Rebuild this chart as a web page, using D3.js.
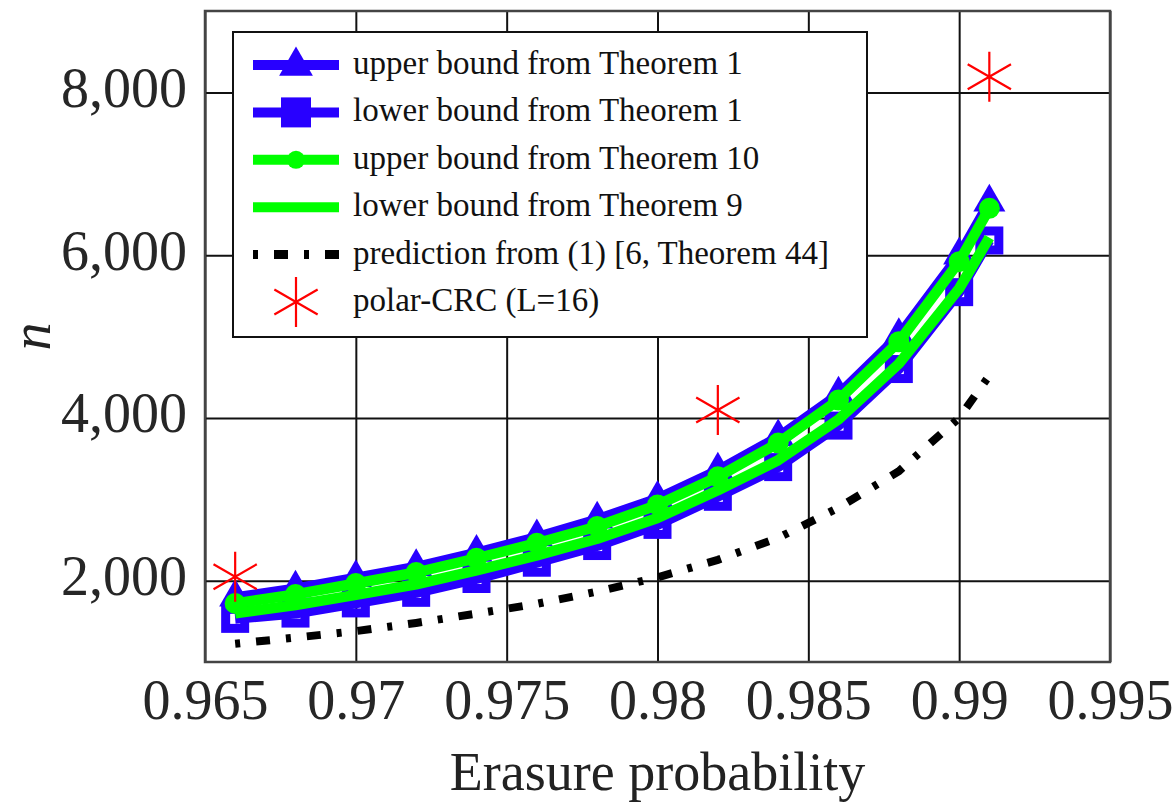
<!DOCTYPE html>
<html>
<head>
<meta charset="utf-8">
<script src="https://cdn.jsdelivr.net/npm/d3@7"></script>
<style>
  body { margin: 0; background: #fff; }
  text { font-family: "Liberation Serif", "DejaVu Serif", serif; }
</style>
</head>
<body>
<div id="chart"></div>
<script>
// erasure probabilities
var erasure = [0.966, 0.968, 0.970, 0.972, 0.974, 0.976, 0.978, 0.980, 0.982, 0.984, 0.986, 0.988, 0.990, 0.991];

// series values (n)
var upperThm1  = [1795, 1905, 2035, 2170, 2345, 2535, 2755, 3010, 3355, 3765, 4290, 5010, 6000, 6650];
var lowerThm1  = [1530, 1595, 1720, 1850, 2020, 2220, 2425, 2685, 3030, 3395, 3905, 4600, 5545, 6180];
var upperThm10 = [1720, 1830, 1965, 2100, 2275, 2460, 2665, 2930, 3275, 3690, 4220, 4935, 5920, 6575];
var lowerThm9  = [1600, 1700, 1825, 1955, 2125, 2310, 2515, 2770, 3110, 3480, 3980, 4665, 5590, 6215];
var prediction = [1225, 1300, 1380, 1480, 1595, 1715, 1865, 2040, 2255, 2525, 2895, 3345, 4000, 4520];

// polar-CRC points
var polarX = [0.966, 0.982, 0.991];
var polarN = [2048, 4096, 8192];

// ticks
var xTicks = [0.965, 0.97, 0.975, 0.98, 0.985, 0.99, 0.995];
var xTickLabels = ["0.965", "0.97", "0.975", "0.98", "0.985", "0.99", "0.995"];
var yTicks = [2000, 4000, 6000, 8000];
var yTickLabels = ["2,000", "4,000", "6,000", "8,000"];

var legendLabels = [
  "upper bound from Theorem 1",
  "lower bound from Theorem 1",
  "upper bound from Theorem 10",
  "lower bound from Theorem 9",
  "prediction from (1) [6, Theorem 44]",
  "polar-CRC (L=16)"
];

var W = 1173, H = 805;
var pLeft = 205, pRight = 1110, pTop = 11, pBottom = 662;
var blue = "#2800ff", green = "#00ff00", red = "#ff0000";

var svg = d3.select("#chart").append("svg")
    .attr("width", W)
    .attr("height", H);

var x = d3.scaleLinear().domain([0.965, 0.995]).range([pLeft, pRight]);
var y = d3.scaleLinear().domain([1000, 9000]).range([pBottom, pTop]);

// grid
svg.append("g")
    .attr("transform", "translate(0," + pBottom + ")")
    .call(d3.axisBottom(x).tickValues(xTicks).tickSize(-(pBottom - pTop)).tickFormat(""))
    .call(function(g){ g.select(".domain").remove(); })
    .selectAll("line").attr("stroke", "#111").attr("stroke-width", 2);

svg.append("g")
    .attr("transform", "translate(" + pLeft + ",0)")
    .call(d3.axisLeft(y).tickValues(yTicks).tickSize(-(pRight - pLeft)).tickFormat(""))
    .call(function(g){ g.select(".domain").remove(); })
    .selectAll("line").attr("stroke", "#111").attr("stroke-width", 2);

// frame
svg.append("rect")
    .attr("x", pLeft).attr("y", pTop)
    .attr("width", pRight - pLeft).attr("height", pBottom - pTop)
    .attr("fill", "none").attr("stroke", "#444").attr("stroke-width", 2.5);

// tick labels
var xa = svg.append("g")
    .attr("transform", "translate(0," + pBottom + ")")
    .call(d3.axisBottom(x).tickValues(xTicks).tickSize(0)
      .tickFormat(function(d, i){ return xTickLabels[i]; }));
xa.select(".domain").remove();
xa.selectAll("text")
    .attr("y", 57).attr("dy", 0)
    .attr("font-size", 56).attr("fill", "#262626")
    .attr("font-family", "Liberation Serif");

var ya = svg.append("g")
    .attr("transform", "translate(" + pLeft + ",0)")
    .call(d3.axisLeft(y).tickValues(yTicks).tickSize(0)
      .tickFormat(function(d, i){ return yTickLabels[i]; }));
ya.select(".domain").remove();
ya.selectAll("text")
    .attr("x", -18).attr("dy", 14)
    .attr("font-size", 56).attr("fill", "#262626")
    .attr("font-family", "Liberation Serif");

// axis titles
svg.append("text")
    .attr("x", (pLeft + pRight) / 2).attr("y", 790)
    .attr("text-anchor", "middle")
    .attr("font-size", 54).attr("fill", "#222")
    .text("Erasure probability");

svg.append("text")
    .attr("transform", "translate(50," + ((pTop + pBottom) / 2) + ") rotate(-90)")
    .attr("text-anchor", "middle")
    .attr("font-size", 56).attr("font-style", "italic").attr("fill", "#222")
    .text("n");

// markers
function triPath(r){
  return "M0," + (-r) + "L" + (0.866 * r) + "," + (0.5 * r) + "L" + (-0.866 * r) + "," + (0.5 * r) + "Z";
}
function starPath(r){
  var p = "";
  [90, 30, -30].forEach(function(a){
    var t = a * Math.PI / 180;
    p += "M" + (-r * Math.cos(t)) + "," + (r * Math.sin(t)) + "L" + (r * Math.cos(t)) + "," + (-r * Math.sin(t));
  });
  return p;
}

function pts(vals){
  return erasure.map(function(e, i){ return [e, vals[i]]; });
}

var line = d3.line()
    .x(function(d){ return x(d[0]); })
    .y(function(d){ return y(d[1]); });

var plot = svg.append("g");

// upper bound Theorem 1
plot.append("path").datum(pts(upperThm1))
    .attr("d", line).attr("fill", "none")
    .attr("stroke", blue).attr("stroke-width", 10).attr("stroke-linejoin", "round");
plot.selectAll(".tri").data(pts(upperThm1)).enter().append("path")
    .attr("class", "tri")
    .attr("transform", function(d){ return "translate(" + x(d[0]) + "," + y(d[1]) + ")"; })
    .attr("d", triPath(18.5)).attr("fill", blue);

// lower bound Theorem 1
plot.append("path").datum(pts(lowerThm1))
    .attr("d", line).attr("fill", "none")
    .attr("stroke", blue).attr("stroke-width", 10).attr("stroke-linejoin", "round");
plot.selectAll(".sq").data(pts(lowerThm1)).enter().append("rect")
    .attr("class", "sq")
    .attr("x", function(d){ return x(d[0]) - 9.5; })
    .attr("y", function(d){ return y(d[1]) - 9.5; })
    .attr("width", 19).attr("height", 19)
    .attr("fill", "none").attr("stroke", blue).attr("stroke-width", 9);

// upper bound Theorem 10
plot.append("path").datum(pts(upperThm10))
    .attr("d", line).attr("fill", "none")
    .attr("stroke", green).attr("stroke-width", 10.5).attr("stroke-linejoin", "round");
plot.selectAll(".dot").data(pts(upperThm10)).enter().append("circle")
    .attr("class", "dot")
    .attr("cx", function(d){ return x(d[0]); })
    .attr("cy", function(d){ return y(d[1]); })
    .attr("r", 10.5).attr("fill", green);

// lower bound Theorem 9
plot.append("path").datum(pts(lowerThm9))
    .attr("d", line).attr("fill", "none")
    .attr("stroke", green).attr("stroke-width", 10.5).attr("stroke-linejoin", "round");

// prediction
plot.append("path").datum(pts(prediction))
    .attr("d", line).attr("fill", "none")
    .attr("stroke", "#000").attr("stroke-width", 8)
    .attr("stroke-dasharray", "5,16,14,16");

// polar-CRC
plot.selectAll(".star").data(polarX).enter().append("path")
    .attr("class", "star")
    .attr("transform", function(d, i){ return "translate(" + x(d) + "," + y(polarN[i]) + ")"; })
    .attr("d", starPath(25))
    .attr("fill", "none").attr("stroke", red).attr("stroke-width", 2.2);

// legend
var lg = svg.append("g");
lg.append("rect")
    .attr("x", 233).attr("y", 32).attr("width", 634).attr("height", 305)
    .attr("fill", "#fff").attr("stroke", "#111").attr("stroke-width", 2);

var rowY = d3.scaleLinear().domain([0, 5]).range([65, 302]);
var lx0 = 253, lx1 = 339, lxm = 296;

legendLabels.forEach(function(lab, i){
  var yy = rowY(i);
  var row = lg.append("g");
  if (i < 4) {
    row.append("line").attr("x1", lx0).attr("x2", lx1).attr("y1", yy).attr("y2", yy)
      .attr("stroke", i < 2 ? blue : green).attr("stroke-width", 10);
  }
  if (i === 0) {
    row.append("path").attr("transform", "translate(" + lxm + "," + (yy + 1) + ")")
      .attr("d", triPath(19.5)).attr("fill", blue);
  } else if (i === 1) {
    row.append("rect").attr("x", lxm - 15).attr("y", yy - 15)
      .attr("width", 30).attr("height", 30).attr("fill", blue);
  } else if (i === 2) {
    row.append("circle").attr("cx", lxm).attr("cy", yy).attr("r", 9).attr("fill", green);
  } else if (i === 4) {
    row.append("line").attr("x1", lx0).attr("x2", lx1).attr("y1", yy).attr("y2", yy)
      .attr("stroke", "#000").attr("stroke-width", 9)
      .attr("stroke-dasharray", "5,16,14,16");
  } else if (i === 5) {
    row.append("path").attr("transform", "translate(" + lxm + "," + yy + ")")
      .attr("d", starPath(25))
      .attr("fill", "none").attr("stroke", red).attr("stroke-width", 2.2);
  }
  row.append("text")
    .attr("x", 353).attr("y", yy + 9)
    .attr("font-size", 33).attr("fill", "#111")
    .text(lab);
});
</script>
</body>
</html>
